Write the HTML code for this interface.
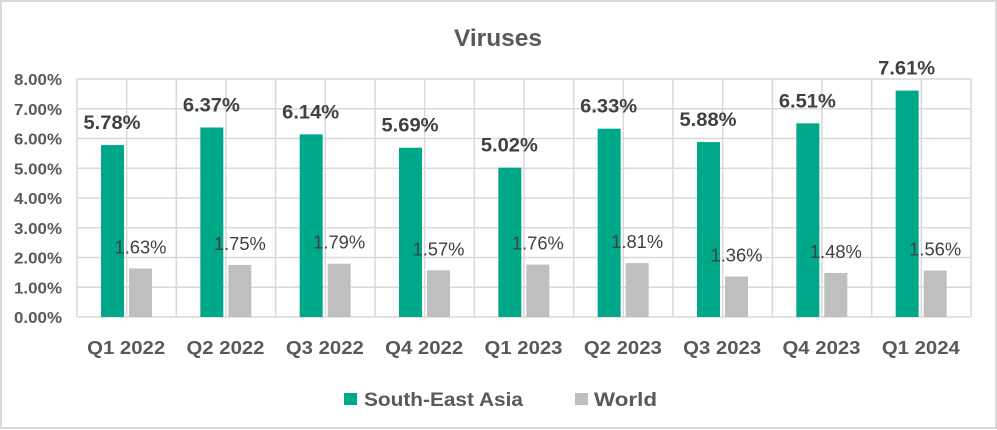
<!DOCTYPE html>
<html><head><meta charset="utf-8"><style>
html,body{margin:0;padding:0;background:#fff}
svg{display:block}
text{font-family:"Liberation Sans",sans-serif}
</style></head><body>
<svg width="997" height="430" viewBox="0 0 997 430" xmlns="http://www.w3.org/2000/svg">
<rect x="1" y="1" width="995" height="427" fill="#fff" stroke="#d9d9d9" stroke-width="2"/>
<text x="498" y="46" text-anchor="middle" font-size="24" font-weight="bold" fill="#595959" textLength="88" lengthAdjust="spacingAndGlyphs">Viruses</text>
<g id="grid" stroke="#d9d9d9" stroke-width="1.5"></g>
<g id="bars"></g>
<g id="lbl"></g>
<rect x="344" y="393" width="13" height="12" fill="#00a88a"/>
<text x="364" y="406" font-size="19" font-weight="bold" fill="#595959" textLength="159" lengthAdjust="spacingAndGlyphs">South-East Asia</text>
<rect x="575" y="393" width="13" height="12" fill="#bfbfbf"/>
<text x="594" y="406" font-size="19" font-weight="bold" fill="#595959" textLength="63" lengthAdjust="spacingAndGlyphs">World</text>
<script>
(function(){
var NS="http://www.w3.org/2000/svg";
function el(p,t,a,txt){var e=document.createElementNS(NS,t);for(var k in a)e.setAttribute(k,a[k]);if(txt!=null)e.textContent=txt;p.appendChild(e);return e;}
var g=document.getElementById('grid'),b=document.getElementById('bars'),l=document.getElementById('lbl');
var L=77,R=971,Z=317,S=29.75,C=(R-L)/9;
for(var i=0;i<=8;i++){var y=Z-i*S;el(g,'line',{x1:L,x2:R,y1:y,y2:y});
el(l,'text',{x:62,y:y+6,'text-anchor':'end','font-size':'16','font-weight':'bold',fill:'#595959',textLength:'48',lengthAdjust:'spacingAndGlyphs'},i.toFixed(2)+'%');}
for(var k=0;k<=18;k++){var x=L+k*C/2;el(g,'line',{x1:x,x2:x,y1:Z-8*S,y2:Z});}
var cats=['Q1 2022','Q2 2022','Q3 2022','Q4 2022','Q1 2023','Q2 2023','Q3 2023','Q4 2023','Q1 2024'];
var sea=[5.78,6.37,6.14,5.69,5.02,6.33,5.88,6.51,7.61];
var w=[1.63,1.75,1.79,1.57,1.76,1.81,1.36,1.48,1.56];
for(var i=0;i<9;i++){var s=L+i*C;
var gx=s+24,wx=s+52;
el(b,'rect',{x:gx,y:Z-sea[i]*S,width:23,height:sea[i]*S,fill:'#00a88a'});
el(b,'rect',{x:wx,y:Z-w[i]*S,width:23,height:w[i]*S,fill:'#bfbfbf'});
el(l,'text',{x:gx+11,y:Z-sea[i]*S-16,'text-anchor':'middle','font-size':'19','font-weight':'bold',fill:'#404040',textLength:'57',lengthAdjust:'spacingAndGlyphs'},sea[i].toFixed(2)+'%');
el(l,'text',{x:wx+11.5,y:Z-w[i]*S-15,'text-anchor':'middle','font-size':'18',fill:'#404040',textLength:'52',lengthAdjust:'spacingAndGlyphs'},w[i].toFixed(2)+'%');
el(l,'text',{x:s+C/2-0.5,y:354,'text-anchor':'middle','font-size':'18.5','font-weight':'bold',fill:'#595959',textLength:'78',lengthAdjust:'spacingAndGlyphs'},cats[i]);
}
})();
</script>
</svg>
</body></html>
